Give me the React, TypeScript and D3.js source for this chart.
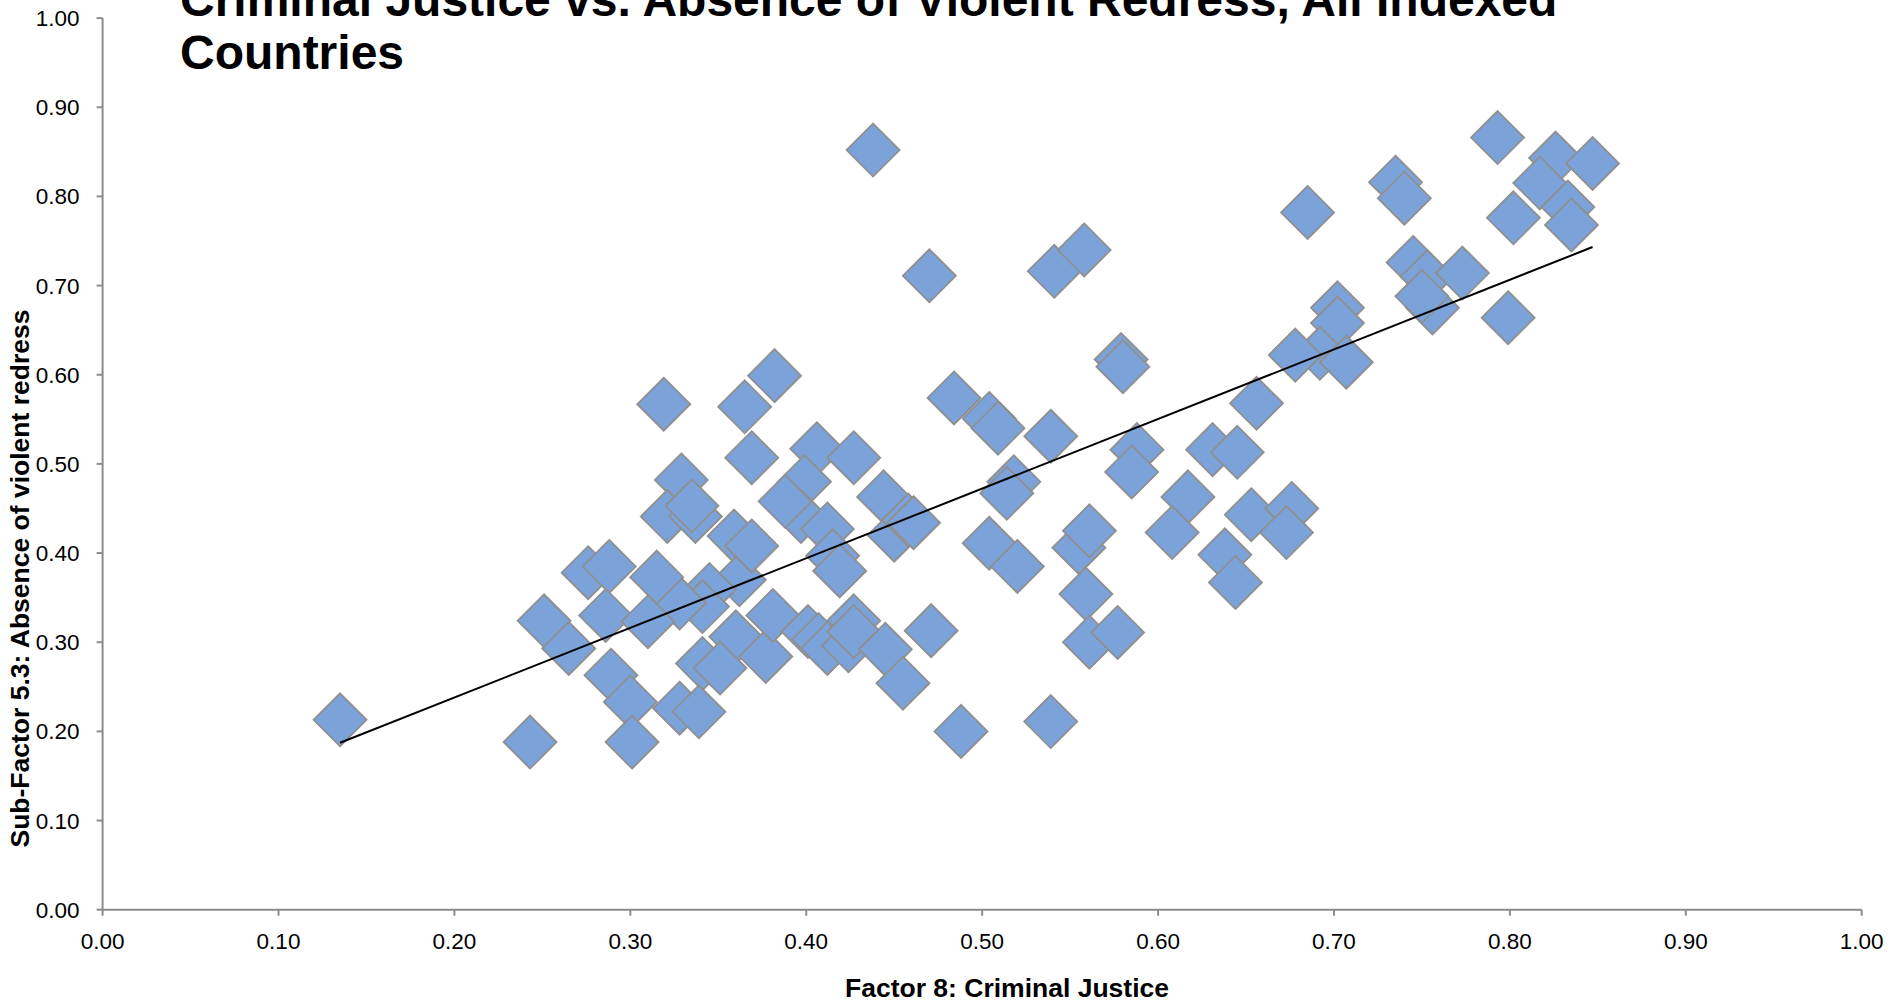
import React from "react";
import * as d3 from "d3";

// Factor 8 (Criminal Justice) score for each indexed country
const criminalJustice: number[] = [
  0.793, 0.826, 0.847, 0.817, 0.833, 0.835, 0.802, 0.735, 0.74, 0.685,
  0.745, 0.753, 0.773, 0.756, 0.702, 0.702, 0.692, 0.678, 0.707, 0.799,
  0.656, 0.631, 0.645, 0.617, 0.608, 0.653, 0.676, 0.673, 0.638, 0.644,
  0.75, 0.438, 0.47, 0.541, 0.558, 0.579, 0.58, 0.382, 0.365, 0.369,
  0.484, 0.504, 0.509, 0.539, 0.406, 0.427, 0.588, 0.585, 0.518, 0.514,
  0.444, 0.399, 0.397, 0.319, 0.329, 0.321, 0.337, 0.335, 0.359, 0.362,
  0.345, 0.341, 0.328, 0.315, 0.276, 0.288, 0.286, 0.31, 0.251, 0.265,
  0.289, 0.3, 0.301, 0.243, 0.135, 0.36, 0.341, 0.351, 0.328, 0.339,
  0.369, 0.377, 0.381, 0.388, 0.401, 0.407, 0.412, 0.412, 0.415, 0.419,
  0.427, 0.424, 0.427, 0.445, 0.45, 0.455, 0.458, 0.461, 0.471, 0.488,
  0.504, 0.52, 0.539, 0.555, 0.561, 0.559, 0.561, 0.577,
];

// Sub-factor 5.3 (Absence of violent redress) score, same country order
const violentRedress: number[] = [
  0.866, 0.843, 0.837, 0.815, 0.788, 0.768, 0.776, 0.816, 0.798, 0.782,
  0.726, 0.71, 0.714, 0.675, 0.675, 0.658, 0.624, 0.622, 0.614, 0.664,
  0.568, 0.516, 0.513, 0.463, 0.423, 0.443, 0.45, 0.423, 0.398, 0.367,
  0.688, 0.852, 0.711, 0.716, 0.74, 0.617, 0.609, 0.599, 0.564, 0.507,
  0.574, 0.551, 0.54, 0.531, 0.517, 0.507, 0.516, 0.491, 0.48, 0.467,
  0.463, 0.48, 0.441, 0.567, 0.482, 0.441, 0.441, 0.453, 0.419, 0.37,
  0.359, 0.34, 0.344, 0.373, 0.378, 0.385, 0.33, 0.323, 0.324, 0.293,
  0.263, 0.233, 0.188, 0.188, 0.213, 0.306, 0.276, 0.271, 0.226, 0.222,
  0.408, 0.284, 0.33, 0.458, 0.312, 0.303, 0.427, 0.293, 0.397, 0.38,
  0.324, 0.296, 0.312, 0.292, 0.42, 0.254, 0.437, 0.434, 0.313, 0.2,
  0.411, 0.385, 0.211, 0.406, 0.425, 0.354, 0.3, 0.311,
];

const axisTicks: number[] = [0, 0.1, 0.2, 0.3, 0.4, 0.5, 0.6, 0.7, 0.8, 0.9, 1.0];

const titleLines: string[] = [
  "Criminal Justice vs. Absence of Violent Redress, All Indexed",
  "Countries",
];
const xTitle = "Factor 8: Criminal Justice";
const yTitle = "Sub-Factor 5.3: Absence of violent redress";

const W = 1893;
const H = 1002;
const FONT = "'Liberation Sans', Arial, Helvetica, sans-serif";
const AXIS_GREY = "#8c8c8c";
const MARKER_FILL = "#7ca3d9";
const MARKER_STROKE = "#8f8f8f";
const MARKER_R = 26.5;
const TICK_FONT = 22.5;

// least-squares linear fit over the plotted points
function linearFit(xs: number[], ys: number[]) {
  const mx = d3.mean(xs) as number;
  const my = d3.mean(ys) as number;
  let sxy = 0;
  let sxx = 0;
  xs.forEach((x, i) => {
    sxy += (x - mx) * (ys[i] - my);
    sxx += (x - mx) * (x - mx);
  });
  const slope = sxy / sxx;
  return { slope, intercept: my - slope * mx };
}

export default function App() {
  const x = d3.scaleLinear().domain([0, 1]).range([102.6, 1861.7]);
  const y = d3.scaleLinear().domain([0, 1]).range([909.7, 18.1]);

  const points = criminalJustice.map((cx, i) => [cx, violentRedress[i]] as [number, number]);
  const fit = linearFit(criminalJustice, violentRedress);
  const [xMin, xMax] = d3.extent(criminalJustice) as [number, number];
  const trend = d3.line<number>()
    .x((v) => x(v))
    .y((v) => y(fit.intercept + fit.slope * v));

  const diamond = (cx: number, cy: number) =>
    `M${cx},${cy - MARKER_R}L${cx + MARKER_R},${cy}L${cx},${cy + MARKER_R}L${cx - MARKER_R},${cy}Z`;

  const fmt = d3.format(".2f");

  return (
    <svg
      width={W}
      height={H}
      style={{ position: "absolute", left: 0, top: 0, display: "block", background: "#fff" }}
      fontFamily={FONT}
    >
      <rect x={0} y={0} width={W} height={H} fill="#fff" />

      {/* markers */}
      <g>
        {points.map(([px, py], i) => (
          <path
            key={i}
            d={diamond(x(px), y(py))}
            fill={MARKER_FILL}
            stroke={MARKER_STROKE}
            strokeWidth={1.8}
          />
        ))}
      </g>

      {/* linear trendline */}
      <path d={trend([xMin, xMax]) || ""} fill="none" stroke="#000" strokeWidth={2} />

      {/* y axis */}
      <g>
        <line x1={x(0)} x2={x(0)} y1={y(1)} y2={y(0)} stroke={AXIS_GREY} strokeWidth={2} />
        {axisTicks.map((t) => (
          <g key={`y${t}`}>
            <line x1={x(0) - 6} x2={x(0)} y1={y(t)} y2={y(t)} stroke={AXIS_GREY} strokeWidth={2} />
            <text x={x(0) - 23} y={y(t) + 8} textAnchor="end" fontSize={TICK_FONT} fill="#000">
              {fmt(t)}
            </text>
          </g>
        ))}
      </g>

      {/* x axis */}
      <g>
        <line x1={x(0)} x2={x(1)} y1={y(0)} y2={y(0)} stroke={AXIS_GREY} strokeWidth={2} />
        {axisTicks.map((t) => (
          <g key={`x${t}`}>
            <line x1={x(t)} x2={x(t)} y1={y(0)} y2={y(0) + 6} stroke={AXIS_GREY} strokeWidth={2} />
            <text x={x(t)} y={948.5} textAnchor="middle" fontSize={TICK_FONT} fill="#000">
              {fmt(t)}
            </text>
          </g>
        ))}
      </g>

      {/* axis titles */}
      <text x={1007} y={997} textAnchor="middle" fontSize={26.5} fontWeight="bold" fill="#000">
        {xTitle}
      </text>
      <text
        transform={`translate(29,578.5) rotate(-90)`}
        textAnchor="middle"
        fontSize={26.5}
        fontWeight="bold"
        fill="#000"
      >
        {yTitle}
      </text>

      {/* chart title */}
      {titleLines.map((line, i) => (
        <text key={i} x={180} y={16 + i * 53} fontSize={48} fontWeight="bold" fill="#000">
          {line}
        </text>
      ))}
    </svg>
  );
}
